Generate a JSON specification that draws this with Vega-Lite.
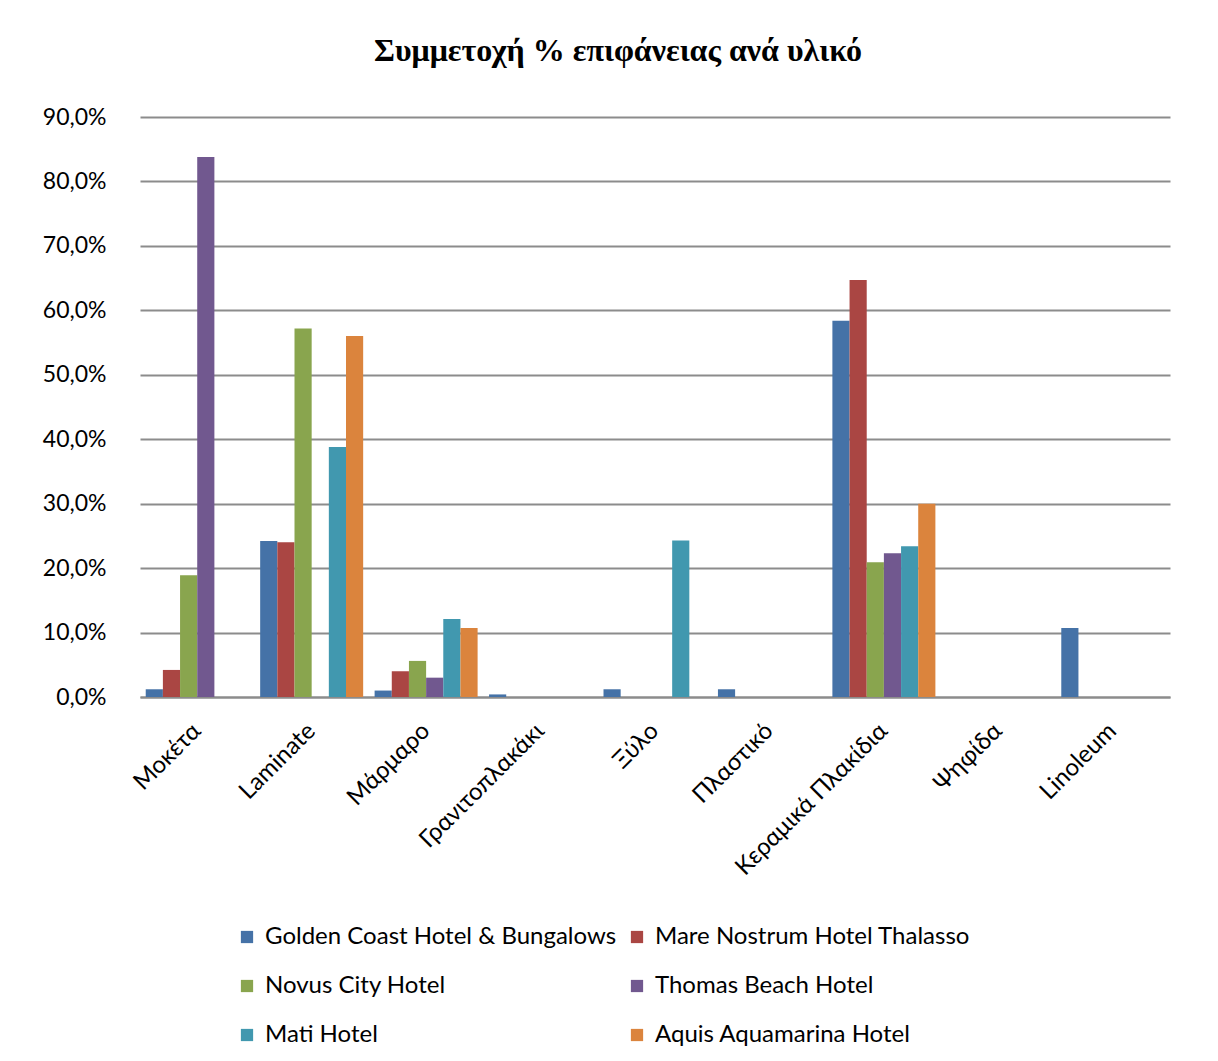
{
  "$schema": "https://vega.github.io/schema/vega-lite/v6.json",
  "autosize": {"type": "none"},
  "width": 1030,
  "height": 580,
  "padding": {"left": 140, "top": 117, "right": 48, "bottom": 364},
  "background": "white",
  "title": {
    "text": "Συμμετοχή % επιφάνειας ανά υλικό",
    "font": "Liberation Serif",
    "fontSize": 32,
    "fontWeight": "bold",
    "color": "#000000",
    "anchor": "middle",
    "dx": -37,
    "offset": 38
  },
  "data": {
    "values": [
      {"material": "Μοκέτα", "hotel": "Golden Coast Hotel & Bungalows", "value": 1.2},
      {"material": "Μοκέτα", "hotel": "Mare Nostrum Hotel Thalasso", "value": 4.2},
      {"material": "Μοκέτα", "hotel": "Novus City Hotel", "value": 18.9},
      {"material": "Μοκέτα", "hotel": "Thomas Beach Hotel", "value": 83.8},
      {"material": "Μοκέτα", "hotel": "Mati Hotel", "value": 0},
      {"material": "Μοκέτα", "hotel": "Aquis Aquamarina Hotel", "value": 0},
      {"material": "Laminate", "hotel": "Golden Coast Hotel & Bungalows", "value": 24.2},
      {"material": "Laminate", "hotel": "Mare Nostrum Hotel Thalasso", "value": 24.0},
      {"material": "Laminate", "hotel": "Novus City Hotel", "value": 57.2},
      {"material": "Laminate", "hotel": "Thomas Beach Hotel", "value": 0},
      {"material": "Laminate", "hotel": "Mati Hotel", "value": 38.8},
      {"material": "Laminate", "hotel": "Aquis Aquamarina Hotel", "value": 56.0},
      {"material": "Μάρμαρο", "hotel": "Golden Coast Hotel & Bungalows", "value": 1.0},
      {"material": "Μάρμαρο", "hotel": "Mare Nostrum Hotel Thalasso", "value": 4.0},
      {"material": "Μάρμαρο", "hotel": "Novus City Hotel", "value": 5.6},
      {"material": "Μάρμαρο", "hotel": "Thomas Beach Hotel", "value": 3.0},
      {"material": "Μάρμαρο", "hotel": "Mati Hotel", "value": 12.1},
      {"material": "Μάρμαρο", "hotel": "Aquis Aquamarina Hotel", "value": 10.7},
      {"material": "Γρανιτοπλακάκι", "hotel": "Golden Coast Hotel & Bungalows", "value": 0.4},
      {"material": "Γρανιτοπλακάκι", "hotel": "Mare Nostrum Hotel Thalasso", "value": 0},
      {"material": "Γρανιτοπλακάκι", "hotel": "Novus City Hotel", "value": 0},
      {"material": "Γρανιτοπλακάκι", "hotel": "Thomas Beach Hotel", "value": 0},
      {"material": "Γρανιτοπλακάκι", "hotel": "Mati Hotel", "value": 0},
      {"material": "Γρανιτοπλακάκι", "hotel": "Aquis Aquamarina Hotel", "value": 0},
      {"material": "Ξύλο", "hotel": "Golden Coast Hotel & Bungalows", "value": 1.2},
      {"material": "Ξύλο", "hotel": "Mare Nostrum Hotel Thalasso", "value": 0},
      {"material": "Ξύλο", "hotel": "Novus City Hotel", "value": 0},
      {"material": "Ξύλο", "hotel": "Thomas Beach Hotel", "value": 0},
      {"material": "Ξύλο", "hotel": "Mati Hotel", "value": 24.3},
      {"material": "Ξύλο", "hotel": "Aquis Aquamarina Hotel", "value": 0},
      {"material": "Πλαστικό", "hotel": "Golden Coast Hotel & Bungalows", "value": 1.2},
      {"material": "Πλαστικό", "hotel": "Mare Nostrum Hotel Thalasso", "value": 0},
      {"material": "Πλαστικό", "hotel": "Novus City Hotel", "value": 0},
      {"material": "Πλαστικό", "hotel": "Thomas Beach Hotel", "value": 0},
      {"material": "Πλαστικό", "hotel": "Mati Hotel", "value": 0},
      {"material": "Πλαστικό", "hotel": "Aquis Aquamarina Hotel", "value": 0},
      {"material": "Κεραμικά Πλακίδια", "hotel": "Golden Coast Hotel & Bungalows", "value": 58.4},
      {"material": "Κεραμικά Πλακίδια", "hotel": "Mare Nostrum Hotel Thalasso", "value": 64.7},
      {"material": "Κεραμικά Πλακίδια", "hotel": "Novus City Hotel", "value": 20.9},
      {"material": "Κεραμικά Πλακίδια", "hotel": "Thomas Beach Hotel", "value": 22.3},
      {"material": "Κεραμικά Πλακίδια", "hotel": "Mati Hotel", "value": 23.4},
      {"material": "Κεραμικά Πλακίδια", "hotel": "Aquis Aquamarina Hotel", "value": 30.0},
      {"material": "Ψηφίδα", "hotel": "Golden Coast Hotel & Bungalows", "value": 0},
      {"material": "Ψηφίδα", "hotel": "Mare Nostrum Hotel Thalasso", "value": 0},
      {"material": "Ψηφίδα", "hotel": "Novus City Hotel", "value": 0},
      {"material": "Ψηφίδα", "hotel": "Thomas Beach Hotel", "value": 0},
      {"material": "Ψηφίδα", "hotel": "Mati Hotel", "value": 0},
      {"material": "Ψηφίδα", "hotel": "Aquis Aquamarina Hotel", "value": 0},
      {"material": "Linoleum", "hotel": "Golden Coast Hotel & Bungalows", "value": 10.7},
      {"material": "Linoleum", "hotel": "Mare Nostrum Hotel Thalasso", "value": 0},
      {"material": "Linoleum", "hotel": "Novus City Hotel", "value": 0},
      {"material": "Linoleum", "hotel": "Thomas Beach Hotel", "value": 0},
      {"material": "Linoleum", "hotel": "Mati Hotel", "value": 0},
      {"material": "Linoleum", "hotel": "Aquis Aquamarina Hotel", "value": 0}
    ]
  },
  "mark": {"type": "bar", "stroke": null},
  "encoding": {
    "x": {
      "field": "material",
      "type": "nominal",
      "sort": null,
      "title": null,
      "scale": {"paddingInner": 0.1, "paddingOuter": 0.05},
      "axis": {
        "labelAngle": -45,
        "labelAlign": "right",
        "labelBaseline": "middle",
        "labelFont": "Lato",
        "labelFontSize": 24,
        "labelColor": "#000000",
        "labelPadding": 30,
        "ticks": false,
        "domainColor": "#8c8c8c",
        "domainWidth": 2,
        "labelLimit": 0
      }
    },
    "xOffset": {
      "field": "hotel",
      "type": "nominal",
      "sort": ["Golden Coast Hotel & Bungalows", "Mare Nostrum Hotel Thalasso", "Novus City Hotel", "Thomas Beach Hotel", "Mati Hotel", "Aquis Aquamarina Hotel"],
      "scale": {"paddingInner": 0, "paddingOuter": 0}
    },
    "y": {
      "field": "value",
      "type": "quantitative",
      "title": null,
      "scale": {"domain": [0, 90], "nice": false},
      "axis": {
        "values": [0, 10, 20, 30, 40, 50, 60, 70, 80, 90],
        "labelExpr": "replace(format(datum.value, '.1f'), '.', ',') + '%'",
        "labelFont": "Lato",
        "labelFontSize": 23,
        "labelColor": "#000000",
        "labelPadding": 34,
        "ticks": false,
        "domain": false,
        "gridColor": "#8c8c8c",
        "gridWidth": 2
      }
    },
    "color": {
      "field": "hotel",
      "type": "nominal",
      "sort": ["Golden Coast Hotel & Bungalows", "Mare Nostrum Hotel Thalasso", "Novus City Hotel", "Thomas Beach Hotel", "Mati Hotel", "Aquis Aquamarina Hotel"],
      "scale": {
        "domain": ["Golden Coast Hotel & Bungalows", "Mare Nostrum Hotel Thalasso", "Novus City Hotel", "Thomas Beach Hotel", "Mati Hotel", "Aquis Aquamarina Hotel"],
        "range": ["#4572A7", "#AA4643", "#89A54E", "#71588F", "#4198AF", "#DB843D"]
      },
      "legend": {
        "title": null,
        "orient": "none",
        "direction": "horizontal",
        "legendX": 95,
        "legendY": 808,
        "columns": 2,
        "columnPadding": 8,
        "rowPadding": 25,
        "symbolType": "square",
        "symbolSize": 150,
        "symbolStrokeWidth": 0,
        "labelFont": "Lato",
        "labelFontSize": 24,
        "labelColor": "#000000",
        "labelLimit": 0,
        "labelOffset": 6
      }
    }
  },
  "config": {
    "view": {"stroke": null}
  }
}
